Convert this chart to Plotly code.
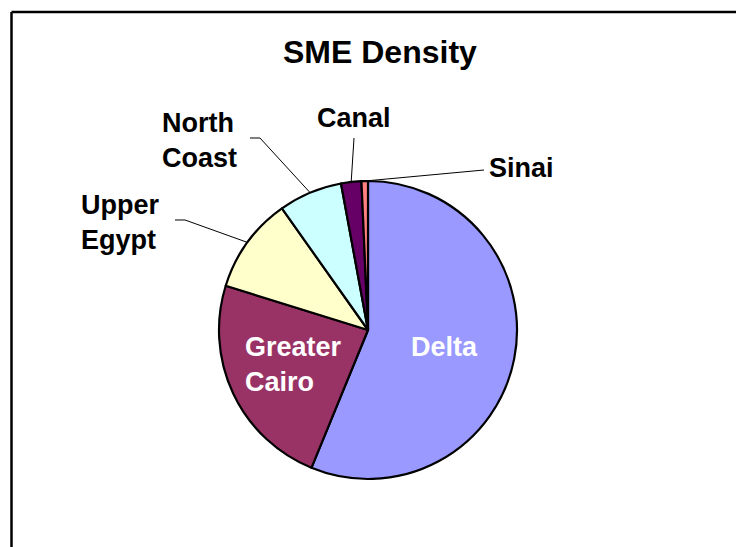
import math
import plotly.graph_objects as go

# SME density by region (share of total, %)
regions = ["Delta", "Greater Cairo", "Upper Egypt", "North Coast", "Canal", "Sinai"]
shares = [56.2, 23.6, 10.4, 6.9, 2.2, 0.7]
colors = ["#9999FF", "#993366", "#FFFFCC", "#CCFFFF", "#660066", "#FF8080"]
label_text = ["Delta", "Greater<br>Cairo", "Upper<br>Egypt", "North<br>Coast", "Canal", "Sinai"]

W, H = 736, 547
CX, CY, R = 368, 330, 149          # pie centre and radius in pixels


def px(x):
    return x / W


def py(y):
    return 1 - y / H


FONT = "Liberation Sans, Arial, sans-serif"

fig = go.Figure(
    go.Pie(
        labels=regions,
        values=shares,
        sort=False,
        direction="clockwise",
        rotation=0,
        textinfo="none",
        hoverinfo="label+percent",
        marker=dict(colors=colors, line=dict(color="black", width=2.2)),
        domain=dict(x=[px(CX - R), px(CX + R)], y=[py(CY + R), py(CY - R)]),
    )
)

# mid-angle of every slice (degrees clockwise from 12 o'clock) -> point on the rim
total = sum(shares)
rim = {}
start = 0.0
for name, v in zip(regions, shares):
    mid = start + v / total * 180.0
    t = math.radians(mid)
    rim[name] = (CX + R * math.sin(t), CY - R * math.cos(t))
    start += v / total * 360.0

# label placement: (left/centre x, middle y, anchor, colour)
label_pos = {
    "Delta": (444, 347, "center", "white"),
    "Greater Cairo": (243, 364, "left", "white"),
    "Upper Egypt": (79, 222, "left", "black"),
    "North Coast": (160, 140, "left", "black"),
    "Canal": (354, 118, "center", "black"),
    "Sinai": (487, 168, "left", "black"),
}

annotations = [
    dict(
        text="<b>SME Density</b>", x=px(380), y=py(52), xref="paper", yref="paper",
        xanchor="center", yanchor="middle", showarrow=False,
        font=dict(family=FONT, size=32, color="black"),
    )
]
for name, txt in zip(regions, label_text):
    x, y, anchor, col = label_pos[name]
    annotations.append(
        dict(
            text=f"<b>{txt}</b>", x=px(x), y=py(y), xref="paper", yref="paper",
            xanchor=anchor, yanchor="middle", align="left", showarrow=False,
            font=dict(family=FONT, size=27, color=col),
        )
    )

# leader lines from outside labels to their slices
leader_start = {
    "Upper Egypt": [(175, 220), (185, 220)],
    "North Coast": [(250, 138), (260, 138)],
    "Canal": [(354, 138)],
    "Sinai": [(484, 170)],
}
shapes = []
for name, pts in leader_start.items():
    ax, ay = rim[name]
    seq = pts + [(ax, ay)]
    path = "M " + " L ".join(f"{px(a):.5f},{py(b):.5f}" for a, b in seq)
    shapes.append(dict(type="path", path=path, xref="paper", yref="paper",
                       line=dict(color="black", width=1)))

# chart-area frame (left and top edges)
frame_x, frame_y = 11.5, 12
shapes.append(dict(type="line", xref="paper", yref="paper",
                   x0=px(frame_x), x1=1.02, y0=py(frame_y), y1=py(frame_y),
                   line=dict(color="black", width=2.5)))
shapes.append(dict(type="line", xref="paper", yref="paper",
                   x0=px(frame_x), x1=px(frame_x), y0=py(frame_y), y1=-0.02,
                   line=dict(color="black", width=2.5)))

fig.update_layout(
    width=W, height=H,
    margin=dict(l=0, r=0, t=0, b=0),
    paper_bgcolor="white",
    plot_bgcolor="white",
    showlegend=False,
    annotations=annotations,
    shapes=shapes,
)

fig.write_html("out.html")
